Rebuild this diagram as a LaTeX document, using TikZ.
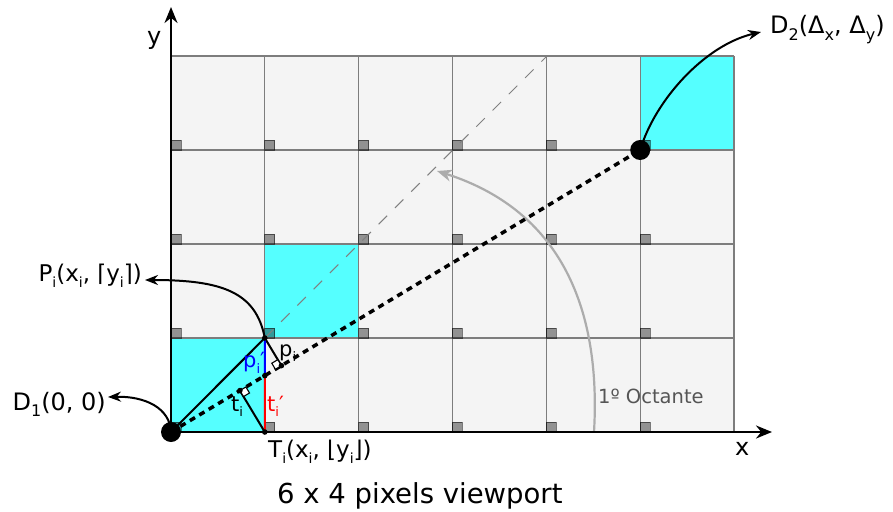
\documentclass[tikz,border=0pt]{standalone}
\usepackage{fontspec}
\setmainfont{DejaVu Sans}
\usetikzlibrary{calc,arrows.meta}
\definecolor{cyanc}{RGB}{85,255,255}
\definecolor{cellbg}{RGB}{244,244,244}
\definecolor{gridc}{RGB}{125,125,125}
\definecolor{octc}{RGB}{85,85,85}
\newcommand\sbi[2][14]{\raisebox{-0.28em}{\fontsize{#1}{#1}\selectfont #2}}
\newcommand\fsz[1]{\fontsize{#1}{#1}\selectfont}
\newcommand\prm{′}
\tikzset{
  gridline/.style={draw=gridc, line width=1.3pt},
  pxsq/.style={fill=black, fill opacity=0.4, draw=black, draw opacity=0.5, line width=0.9pt},
  axis/.style={line width=2.4pt, -{Stealth[length=16pt,width=13pt]}},
  arr/.style={line width=2pt, -{Stealth[length=13pt,width=10pt]}},
  blk/.style={line width=2pt},
  ramark/.style={draw=black, fill=white, line width=1.1pt},
  smalldot/.style={fill=black},
  lbl/.style={inner sep=0pt, font=\fsz{23}},
}
\begin{document}
\begin{tikzpicture}[x=1pt,y=-1pt]
\useasboundingbox (0,0) rectangle (893,511);
% cells
\fill[cellbg] (171,56) rectangle (734,432);
\fill[cyanc] (171,338) rectangle (264.8,432);
\fill[cyanc] (264.8,244) rectangle (358.7,338);
\fill[cyanc] (640.2,56) rectangle (734,150);
\foreach \i in {0,...,6} \draw[gridline] ({171+\i*93.83},56) -- ({171+\i*93.83},432);
\foreach \j in {0,...,4} \draw[gridline] (171,{56+\j*94}) -- (734,{56+\j*94});
\foreach \i in {0,...,5} \foreach \j in {1,...,4}
  \draw[pxsq] ({171+\i*93.83},{56+\j*94}) rectangle ++(10,-10);
% key points
\coordinate (D1) at (171,432);
\coordinate (D2) at (640.2,150);
\coordinate (P) at (264.8,338);
\coordinate (T) at (264.8,432);
\coordinate (Dg) at (546,57);
\coordinate (I) at (intersection of D1--D2 and P--T);
\coordinate (pf) at ($(D1)!(P)!(D2)$);
\coordinate (tf) at ($(D1)!(T)!(D2)$);
% diagonal
\draw[gray, line width=1pt, dash pattern=on 12pt off 11pt] (P) -- (Dg);
% octant arc
\coordinate (oa) at (594,432);
\coordinate (ob) at (437,171);
\draw[gray!65, line width=2.2pt, -{Stealth[length=15pt,width=12pt]}] (oa) .. controls (600,330) and (575,215) .. (ob);
% dotted line
\draw[line width=3.5pt, dash pattern=on 6pt off 5pt] (D1) -- (D2);
% lines
\draw[blk] (D1) -- (P);
\draw[blk] (P) -- (pf);
\draw[blk] (T) -- (tf);
\draw[blue, line width=2pt] (P) -- (I);
\draw[red, line width=2pt] (I) -- (T);
% right-angle marks
\coordinate (pa) at ($(pf)!7pt!(D1)$);
\coordinate (pc) at ($(pf)!7pt!(P)$);
\draw[ramark] (pf) -- (pa) -- ($(pa)+(pc)-(pf)$) -- (pc) -- cycle;
\coordinate (ta) at ($(tf)!7pt!(D2)$);
\coordinate (tc) at ($(tf)!7pt!(T)$);
\draw[ramark] (tf) -- (ta) -- ($(ta)+(tc)-(tf)$) -- (tc) -- cycle;
\foreach \c in {P,T,I,pf,tf} \fill[smalldot] (\c) circle (2.8pt);
% axes
\draw[axis] (D1) -- (772,432);
\draw[axis] (D1) -- (171,7);
% labels
\node[lbl, font=\fsz{24}, anchor=base west] (yl) at (147,45) {y};
\node[lbl, font=\fsz{24}, anchor=base west] (xl) at (735,455) {x};
\node[lbl, font=\fsz{24}, anchor=base east] (d1t) at (106,410) {D\sbi[16]{1}(0, 0)};
\node[lbl, anchor=base east] (pt) at (142,281) {P\sbi{i}(x\sbi{i}, ⌈y\sbi{i}⌉)};
\node[lbl, font=\fsz{24}, anchor=base west] (d2t) at (770,34) {D\sbi[16]{2}(Δ\sbi[16]{x}, Δ\sbi[16]{y})};
\node[lbl, anchor=base west] (tt) at (268,457) {T\sbi{i}(x\sbi{i}, ⌊y\sbi{i}⌋)};
\node[lbl, font=\fsz{27.5}, anchor=base west] (cap) at (277,503) {6 x 4 pixels viewport};
\node[lbl, font=\fsz{19.5}, text=octc, anchor=base west] (oct) at (598,403) {1º Octante};
\node[lbl, font=\fsz{21}, anchor=base west] (pil) at (279,356) {p\sbi[13]{i}};
\node[lbl, font=\fsz{21}, text=blue, anchor=base west] (pil2) at (243,367.5) {p\sbi[13]{i}\prm};
\node[lbl, font=\fsz{21}, anchor=base west] (til) at (231,411) {t\sbi[13]{i}};
\node[lbl, font=\fsz{21}, text=red, anchor=base west] (til2) at (267,411) {t\sbi[13]{i}\prm};
% label arrows
\coordinate (d1e) at (108,397);
\coordinate (pe) at (145,280);
\coordinate (d2e) at (761,32);
\draw[arr] (D1) .. controls (170,408) and (145,396) .. (d1e);
\draw[arr] (P) .. controls (256,292) and (222,280) .. (pe);
\draw[arr] (D2) .. controls (655,100) and (705,45) .. (d2e);
% big dots
\fill (D1) circle (10pt);
\fill (D2) circle (10pt);
\end{tikzpicture}
\end{document}
